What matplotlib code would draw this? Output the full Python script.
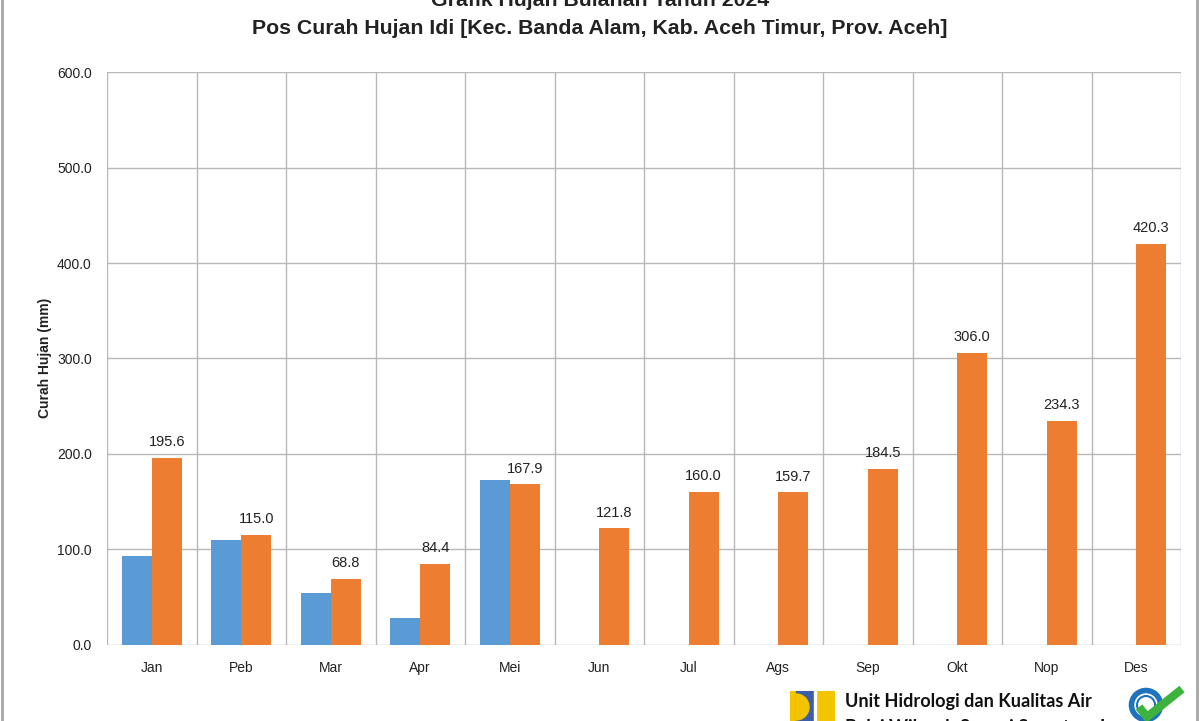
import matplotlib
matplotlib.use("Agg")
import matplotlib.pyplot as plt
import numpy as np
from matplotlib.patches import Rectangle, Circle, Wedge
from matplotlib.lines import Line2D

months = ["Jan", "Peb", "Mar", "Apr", "Mei", "Jun", "Jul", "Ags", "Sep", "Okt", "Nop", "Des"]
series_blue = [92.5, 110.1, 54.2, 27.5, 172.8, 0, 0, 0, 0, 0, 0, 0]
series_orange = [195.6, 115.0, 68.8, 84.4, 167.9, 121.8, 160.0, 159.7, 184.5, 306.0, 234.3, 420.3]
yticks = [0, 100, 200, 300, 400, 500, 600]

FONT = ["Liberation Sans Narrow", "Liberation Sans", "DejaVu Sans"]
plt.rcParams["font.family"] = FONT

W, H = 1200, 721
fig = plt.figure(figsize=(W / 100, H / 100), dpi=100)
fig.patch.set_facecolor("white")

ax = fig.add_axes([107 / W, 1 - 644.5 / H, (1181 - 107) / W, (644.5 - 72.3) / H])
x = np.arange(len(months))
bw = 0.334
ax.bar(x - bw / 2, series_blue, width=bw, color="#5B9BD5", zorder=3)
ax.bar(x + bw / 2, series_orange, width=bw, color="#ED7D31", zorder=3)
for xi, v in zip(x, series_orange):
    ax.text(xi + bw / 2, v + 9, f"{v:.1f}", ha="center", va="bottom", fontsize=10.5, color="#222222")

ax.set_xlim(-0.5, len(months) - 0.5)
ax.set_ylim(0, 600)
ax.set_yticks(yticks)
ax.set_yticklabels([f"{t:.1f}" for t in yticks])
ax.set_xticks(x)
ax.set_xticklabels(months)
ax.tick_params(axis="both", length=0, labelsize=10, colors="#222222")
ax.tick_params(axis="y", pad=11)
ax.tick_params(axis="x", pad=12)
ax.yaxis.grid(True, color="#b8b8b8", linewidth=1.0, zorder=0)
for b in np.arange(-0.5, len(months) + 0.5, 1.0):
    ax.axvline(b, color="#b8b8b8", linewidth=1.0, zorder=0)
for s in ax.spines.values():
    s.set_visible(False)
fig.text(45 / W, 1 - 358 / H, "Curah Hujan (mm)", rotation=90, ha="center", va="center",
         fontsize=10, fontweight="bold", color="#222222")

# titles
fig.text(0.5, 1 - 1 / H, "Grafik Hujan Bulanan Tahun 2024", ha="center", va="center",
         fontsize=15.3, fontweight="bold", color="#222222")
fig.text(0.5, 1 - 28 / H, "Pos Curah Hujan Idi [Kec. Banda Alam, Kab. Aceh Timur, Prov. Aceh]",
         ha="center", va="center", fontsize=15.3, fontweight="bold", color="#222222")

# figure border
fig.add_artist(Rectangle((2 / W, -0.01), (W - 5) / W, 1.02, transform=fig.transFigure,
                         fill=False, edgecolor="#a6a6a6", linewidth=2))

# logo (approximation)
fa = fig.add_axes([790 / W, 0, 45 / W, (721 - 690.5) / H])
fa.set_xlim(790, 835)
fa.set_ylim(721, 690.5)
fa.axis("off")
fa.add_patch(Rectangle((790, 690.5), 45, 31, color="#F2C500"))
fa.add_patch(Rectangle((796, 690.5), 18, 31, color="#3C5DA8"))
fa.add_patch(Wedge((796, 707), 13, -90, 90, color="#F2C500"))
fa.add_patch(Rectangle((814, 690.5), 2, 31, color="white"))

fig.text(845 / W, 1 - 702 / H, "Unit Hidrologi dan Kualitas Air", ha="left", va="center",
         fontsize=13.1, fontweight="bold", family=["Lato", "DejaVu Sans"], color="#111111")
fig.text(845 / W, 1 - 728 / H, "Balai Wilayah Sungai Sumatera I", ha="left", va="center",
         fontsize=13.1, fontweight="bold", family=["Lato", "DejaVu Sans"], color="#111111")

# ISO badge (approximation)
ia = fig.add_axes([1120 / W, 0, 75 / W, 40 / H])
ia.set_xlim(1120, 1195)
ia.set_ylim(721, 681)
ia.set_aspect("equal")
ia.axis("off")
ia.add_patch(Circle((1146, 705), 14.5, facecolor="white", edgecolor="#1E73BE", linewidth=4))
ia.add_patch(Circle((1146, 705), 9, facecolor="white", edgecolor="#1E73BE", linewidth=1.5))
ia.add_line(Line2D([1139, 1147, 1182], [707, 717, 689], color="#3DB33D", linewidth=6,
                   solid_capstyle="butt", solid_joinstyle="miter"))

fig.savefig("out.png", dpi=100)
